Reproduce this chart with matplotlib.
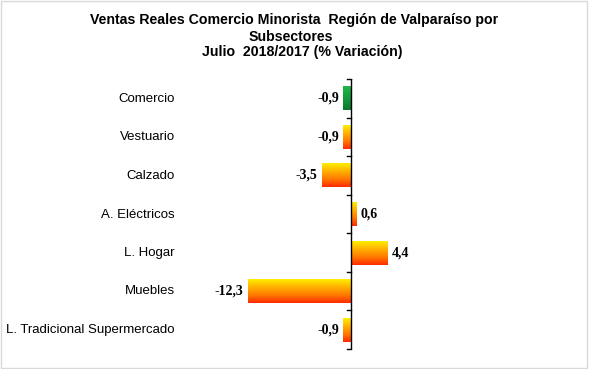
import numpy as np
import matplotlib
matplotlib.use("Agg")
import matplotlib.pyplot as plt
from matplotlib.colors import LinearSegmentedColormap
from matplotlib.patches import Rectangle

categorias = ["Comercio", "Vestuario", "Calzado", "A. Eléctricos",
              "L. Hogar", "Muebles", "L. Tradicional Supermercado"]
valores = [-0.9, -0.9, -3.5, 0.6, 4.4, -12.3, -0.9]
etiquetas = ["-0,9", "-0,9", "-3,5", "0,6", "4,4", "-12,3", "-0,9"]

titulo = ["Ventas Reales Comercio Minorista  Región de Valparaíso por",
          "Subsectores", "Julio  2018/2017 (% Variación)"]

fig = plt.figure(figsize=(5.89, 3.69), dpi=100)
fig.patch.set_facecolor("white")
fig.patches.append(Rectangle((0.001, 0.003), 0.996, 0.995, transform=fig.transFigure,
                             fill=False, edgecolor="#d9d9d9", linewidth=1.0))

# zero at x=351 px, ~8.4 px per unit
x0_px, x1_px = 200, 560
escala = 8.4
ax = fig.add_axes([x0_px / 589, 1 - 349 / 369, (x1_px - x0_px) / 589, 270 / 369])

amarillo = LinearSegmentedColormap.from_list("am", ["#ffee00", "#ffb000", "#ff7a00", "#ff2a00"])
verde = LinearSegmentedColormap.from_list("ve", ["#20b84a", "#139a3c", "#0a7a2e"])
grad = np.linspace(0, 1, 64).reshape(-1, 1)

alto = 0.62
for i, (cat, v, lab) in enumerate(zip(categorias, valores, etiquetas)):
    cmap = verde if i == 0 else amarillo
    izq, der = min(0, v), max(0, v)
    ax.imshow(grad, cmap=cmap, aspect="auto", interpolation="bilinear",
              extent=[izq, der, i + alto / 2, i - alto / 2], zorder=2)
    if v < 0:
        ax.text(v - 0.5, i, lab, ha="right", va="center", fontsize=10,
                fontweight="bold", family="Liberation Serif")
    else:
        ax.text(v + 0.5, i, lab, ha="left", va="center", fontsize=10,
                fontweight="bold", family="Liberation Serif")
    fig.text(175 / 589, 1 - (99 + i * 38.5) / 369, cat, ha="right", va="center",
             fontsize=9.5, family="Liberation Sans")

ax.set_xlim((x0_px - 351) / escala, (x1_px - 351) / escala)
ax.set_ylim(len(categorias) - 0.5, -0.5)

for s in ["top", "right", "bottom", "left"]:
    ax.spines[s].set_visible(False)
ax.axvline(0, color="black", linewidth=1.0, zorder=3)
ax.set_xticks([])
ax.set_yticks([])
for b in np.arange(-0.5, len(categorias), 1.0):
    ax.plot([-0.45, 0], [b, b], color="black", linewidth=1.0, zorder=3, clip_on=False)

for linea, y_px, x_px in zip(titulo, [20, 37, 52], [294, 291, 302]):
    fig.text(x_px / 589, 1 - y_px / 369, linea, ha="center", va="center", fontsize=10.2,
             fontweight="bold", family="Liberation Sans")

fig.savefig("out.png", dpi=100)
